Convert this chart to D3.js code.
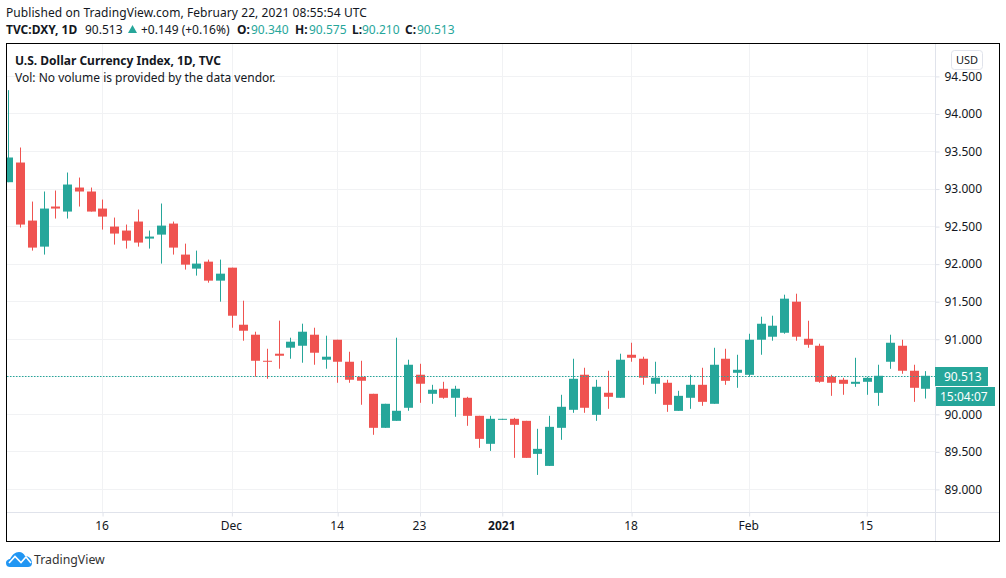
<!DOCTYPE html>
<html>
<head>
<meta charset="utf-8">
<script src="https://cdn.jsdelivr.net/npm/d3@7"></script>
<style>
  html, body { margin: 0; padding: 0; background: #fff; }
  svg { display: block; }
  text { font-family: "Noto Sans", sans-serif; fill: #131722; }
</style>
</head>
<body>
<div id="chart"></div>
<script>
// Daily candles
const opens = [93.091,93.353,92.58,92.233,92.767,92.7,93.02,92.967,92.74,92.5,92.447,92.567,92.34,92.393,92.54,92.127,91.94,92.033,91.78,91.953,91.193,91.06,90.713,90.807,90.887,90.913,91.06,90.727,90.993,90.7,90.5,90.273,89.82,89.913,90.087,90.527,90.273,90.34,90.22,90.22,89.98,89.607,89.927,89.94,89.913,89.473,89.313,89.82,90.06,90.527,89.993,90.287,90.22,90.793,90.74,90.407,90.42,90.046,90.22,90.393,90.14,90.74,90.553,90.526,90.993,91.033,91.086,91.5,91.006,90.913,90.5,90.46,90.406,90.433,90.286,90.7,90.913,90.58,90.34];
const highs = [94.317,93.553,92.833,92.967,92.98,93.22,93.153,93.02,92.86,92.62,92.527,92.727,92.447,92.807,92.567,92.273,92.18,92.06,92.06,91.953,91.513,91.1,90.873,91.247,91.02,91.207,91.153,91.047,90.993,90.833,90.713,90.273,90.14,91.02,90.727,90.673,90.393,90.433,90.38,90.233,89.98,89.98,89.94,89.953,89.913,89.807,89.98,90.26,90.74,90.62,90.46,90.58,90.807,90.953,90.767,90.7,90.46,90.313,90.526,90.62,90.886,90.873,90.793,91.073,91.3,91.313,91.593,91.606,91.246,90.94,90.526,90.486,90.753,90.5,90.66,91.06,90.993,90.66,90.575];
const lows = [93.091,92.487,92.18,92.127,92.607,92.607,92.767,92.7,92.46,92.26,92.207,92.233,92.207,92.007,92.127,91.927,91.847,91.753,91.5,91.153,90.98,90.5,90.473,90.607,90.74,90.687,90.66,90.607,90.42,90.42,90.127,89.727,89.82,89.913,90.047,90.153,90.14,90.207,89.967,89.847,89.553,89.513,89.927,89.42,89.42,89.193,89.313,89.66,90.02,90.02,89.913,90.073,90.22,90.7,90.393,90.273,90.033,90.046,90.073,90.113,90.14,90.393,90.353,90.5,90.793,90.98,91.073,90.98,90.886,90.42,90.246,90.26,90.366,90.26,90.113,90.606,90.54,90.166,90.21];
const closes = [93.42,92.527,92.22,92.74,92.74,93.06,92.967,92.7,92.633,92.407,92.313,92.287,92.367,92.513,92.22,91.993,92.007,91.78,91.873,91.313,91.113,90.713,90.7,90.78,90.967,91.1,90.82,90.767,90.7,90.46,90.447,89.82,90.14,90.047,90.66,90.407,90.327,90.22,90.34,89.98,89.673,89.94,89.94,89.86,89.42,89.54,89.833,90.1,90.473,90.087,90.367,90.233,90.727,90.753,90.487,90.487,90.126,90.246,90.393,90.166,90.66,90.446,90.593,90.993,91.206,91.18,91.54,91.033,90.926,90.433,90.42,90.406,90.433,90.486,90.513,90.953,90.58,90.353,90.513];

const priceTicks = [89,89.5,90,90.5,91,91.5,92,92.5,93,93.5,94,94.5];
const timeTickIndex = [8,19,28,35,42,53,63,73];
const timeTickLabels = ["16","Dec","14","23","2021","18","Feb","15"];
const lastPrice = 90.513;

const width = 1006, height = 578;
const green = "#26a69a", red = "#ef5350";
const gridColor = "#f1f2f4", axisColor = "#e0e3eb";

const paneLeft = 7, paneRight = 935, paneTop = 44, paneBottom = 512;

const svg = d3.select("#chart").append("svg")
  .attr("width", width)
  .attr("height", height);

svg.append("defs").append("clipPath").attr("id", "pane")
  .append("rect")
  .attr("x", paneLeft).attr("y", paneTop)
  .attr("width", paneRight - paneLeft).attr("height", paneBottom - paneTop);

const x = d3.scaleLinear().domain([0, 78]).range([8.3, 925.3]);
const y = d3.scaleLinear().domain([89, 94.5]).range([489.4, 76.4]);

// Grid
svg.append("g").selectAll("line").data(priceTicks).enter().append("line")
  .attr("x1", paneLeft).attr("x2", paneRight)
  .attr("y1", d => Math.floor(y(d)) + 0.5).attr("y2", d => Math.floor(y(d)) + 0.5)
  .attr("stroke", gridColor);
svg.append("g").selectAll("line").data(timeTickIndex).enter().append("line")
  .attr("x1", d => Math.round(x(d)) + 0.5).attr("x2", d => Math.round(x(d)) + 0.5)
  .attr("y1", paneTop).attr("y2", paneBottom)
  .attr("stroke", gridColor);

// Candles
const candles = svg.append("g").attr("clip-path", "url(#pane)");
const idx = d3.range(opens.length);
const colorOf = i => closes[i] >= opens[i] ? green : red;

candles.selectAll("line.wick").data(idx).enter().append("line")
  .attr("class", "wick")
  .attr("x1", i => Math.round(x(i)) + 0.5).attr("x2", i => Math.round(x(i)) + 0.5)
  .attr("y1", i => y(highs[i])).attr("y2", i => y(lows[i]))
  .attr("stroke", colorOf).attr("stroke-width", 1);

candles.selectAll("rect.body").data(idx).enter().append("rect")
  .attr("class", "body")
  .attr("x", i => Math.round(x(i)) - 4)
  .attr("width", 9)
  .attr("y", i => y(Math.max(opens[i], closes[i])))
  .attr("height", i => Math.max(1, Math.abs(y(opens[i]) - y(closes[i]))))
  .attr("fill", colorOf);

// Last price line
svg.append("line")
  .attr("x1", paneLeft).attr("x2", paneRight)
  .attr("y1", Math.round(y(lastPrice)) + 0.5).attr("y2", Math.round(y(lastPrice)) + 0.5)
  .attr("stroke", green).attr("stroke-dasharray", "1.5 1.5");

// Price axis
const yAxis = svg.append("g")
  .attr("transform", `translate(${paneRight + 0.5},0)`)
  .call(d3.axisRight(y).tickValues(priceTicks).tickFormat(d3.format(".3f")).tickSize(4).tickPadding(5));
yAxis.select(".domain").remove();
yAxis.selectAll("line").attr("stroke", axisColor);
yAxis.selectAll("text").style("font-family", '"Noto Sans", sans-serif').style("font-size", "12px").attr("fill", "#131722");

// Time axis
const xAxis = svg.append("g")
  .attr("transform", `translate(0.5,${paneBottom + 0.5})`)
  .call(d3.axisBottom(d3.scaleLinear().domain([0, 78]).range([8, 925])).tickValues(timeTickIndex)
    .tickFormat((d, i) => timeTickLabels[i]).tickSize(4).tickPadding(5));
xAxis.select(".domain").remove();
xAxis.selectAll("line").attr("stroke", axisColor);
xAxis.selectAll("text").style("font-family", '"Noto Sans", sans-serif').style("font-size", "12px")
  .attr("dx", -1)
  .attr("fill", "#131722").style("font-weight", (d, i) => timeTickLabels[i] === "2021" ? 700 : 400);

// Axis dividers
svg.append("line").attr("x1", paneLeft).attr("x2", 999).attr("y1", paneBottom + 0.5).attr("y2", paneBottom + 0.5).attr("stroke", axisColor);
svg.append("line").attr("x1", paneRight + 0.5).attr("x2", paneRight + 0.5).attr("y1", paneTop).attr("y2", 541).attr("stroke", axisColor);

// Outer frame
svg.append("rect").attr("x", 6.5).attr("y", 43.5).attr("width", 993).attr("height", 498)
  .attr("fill", "none").attr("stroke", "#000");

// Price labels
const priceBox = svg.append("g");
priceBox.append("rect").attr("x", 935).attr("y", 367).attr("width", 53).attr("height", 19).attr("fill", green);
priceBox.append("text").attr("x", 944).attr("y", 381).style("font-size", "12px").style("fill", "#fff").text(d3.format(".3f")(lastPrice));
priceBox.append("rect").attr("x", 936).attr("y", 387).attr("width", 59).attr("height", 19).attr("fill", green);
priceBox.append("text").attr("x", 940).attr("y", 401).style("font-size", "12px").style("fill", "#fff").text("15:04:07");

// USD button
svg.append("rect").attr("x", 951.5).attr("y", 50.5).attr("width", 31).attr("height", 19).attr("rx", 3)
  .attr("fill", "#fff").attr("stroke", axisColor);
svg.append("text").attr("x", 967).attr("y", 63.5).attr("text-anchor", "middle").style("font-size", "11px").text("USD");

// Header
svg.append("text").attr("x", 6).attr("y", 17).style("font-size", "12px").style("letter-spacing", "0.07px")
  .text("Published on TradingView.com, February 22, 2021 08:55:54 UTC");

const head = svg.append("text").attr("x", 6).attr("y", 34).style("font-size", "12px");
head.append("tspan").style("font-weight", 700).text("TVC:DXY, 1D");
head.append("tspan").attr("x", 85).text("90.513");
svg.append("path").attr("d", "M128 33 L132.5 25 L137 33 Z").attr("fill", green);
head.append("tspan").attr("x", 141).text("+0.149 (+0.16%)");
[["O:", "90.340", 237, 251], ["H:", "90.575", 295, 309], ["L:", "90.210", 352, 362], ["C:", "90.513", 405, 417]].forEach(d => {
  head.append("tspan").attr("x", d[2]).style("font-weight", 700).text(d[0]);
  head.append("tspan").attr("x", d[3]).style("fill", green).text(d[1]);
});

// Legend in pane
svg.append("text").attr("x", 15).attr("y", 65).style("font-size", "12px").style("font-weight", 700)
  .text("U.S. Dollar Currency Index, 1D, TVC");
svg.append("text").attr("x", 15).attr("y", 82).style("font-size", "12px")
  .text("Vol: No volume is provided by the data vendor.");

// Logo
svg.append("path")
  .attr("d", "M6 563 C6 560 9 559 10 559 C12 555 15 552 19 552 C22 552 24 554 25 556 C29 556 32 559 32 563 C32 566 30 567 28 567 L10 567 C8 567 6 566 6 563 Z")
  .attr("fill", "#2196f3");
svg.append("path")
  .attr("d", "M9 563 L15 556.5 L21 562.5 L26 557 L31 563")
  .attr("fill", "none").attr("stroke", "#fff").attr("stroke-width", 1.6);
svg.append("text").attr("x", 34).attr("y", 564).style("font-size", "12.3px").style("fill", "#333").text("TradingView");
</script>
</body>
</html>
